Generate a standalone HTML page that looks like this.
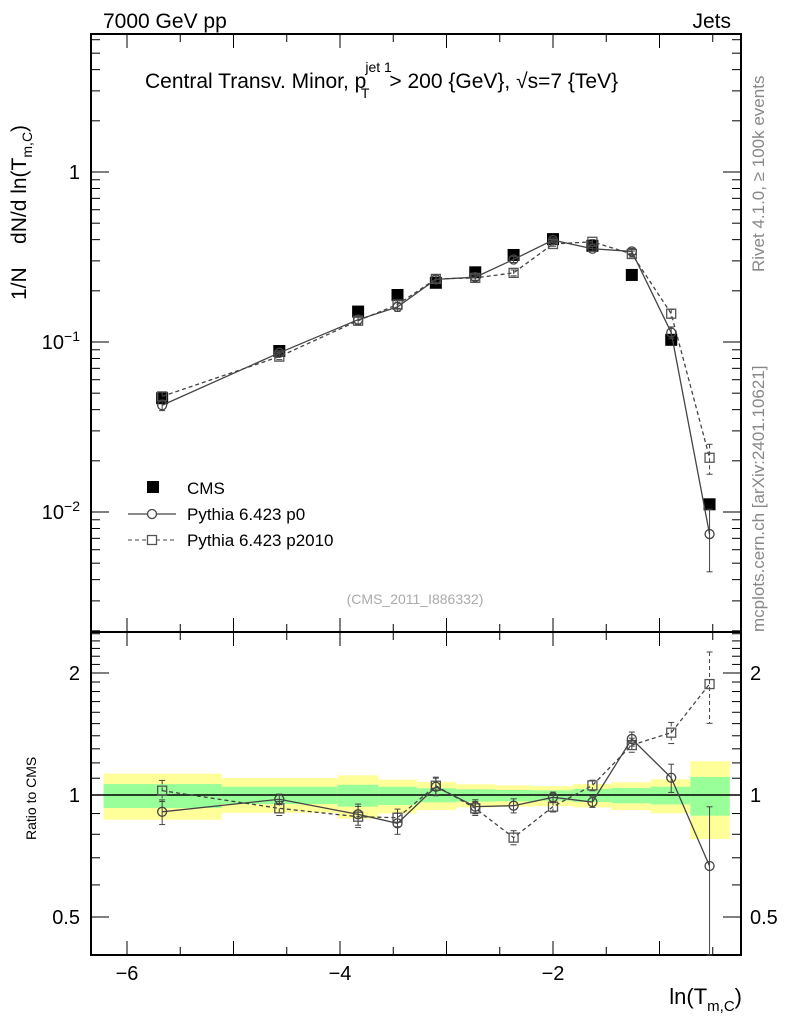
<!DOCTYPE html>
<html><head><meta charset="utf-8"><style>
body{margin:0;background:#fff}
svg{display:block;font-family:"Liberation Sans",sans-serif}
</style></head><body>
<svg id="chart" width="786" height="1024" viewBox="0 0 786 1024">
<text x="103" y="28" font-size="21">7000 GeV pp</text>
<text x="731" y="28" font-size="21" text-anchor="end">Jets</text>
<text x="145" y="88" font-size="21">Central Transv. Minor, p<tspan font-size="14" dx="-1" dy="-16">jet 1</tspan><tspan font-size="14" dx="-31" dy="26">T</tspan><tspan dx="20" dy="-10">&gt; 200 {GeV}, √s=7 {TeV}</tspan></text>
<text transform="translate(26,300) rotate(-90)" font-size="21" xml:space="preserve">1/N    dN/d ln(T<tspan font-size="14" dy="6">m,C</tspan><tspan dy="-6">)</tspan></text>
<text transform="translate(36,840) rotate(-90)" font-size="14">Ratio to CMS</text>
<text transform="translate(764,272) rotate(-90)" font-size="17" fill="#888">Rivet 4.1.0, ≥ 100k events</text>
<text transform="translate(764,632) rotate(-90)" font-size="17" fill="#888">mcplots.cern.ch [arXiv:2401.10621]</text>
<text x="415" y="604" font-size="14" fill="#aaa" text-anchor="middle">(CMS_2011_I886332)</text>
<text x="742" y="1004" font-size="22" text-anchor="end">ln(T<tspan font-size="15" dy="7">m,C</tspan><tspan dy="-7">)</tspan></text>
<g id="g"></g>
</svg>
<script>
const xCenters=[-5.67,-4.57,-3.83,-3.46,-3.10,-2.73,-2.37,-2.00,-1.63,-1.26,-0.89,-0.53];
const binEdges=[-6.22,-5.11,-4.02,-3.64,-3.28,-2.91,-2.54,-2.18,-1.81,-1.45,-1.08,-0.71,-0.34];
const cmsValues=[0.0467,0.0885,0.151,0.189,0.223,0.257,0.325,0.403,0.368,0.248,0.103,0.0111];
const p0Ratio=[0.909,0.976,0.896,0.851,1.048,0.936,0.941,0.987,0.961,1.375,1.103,0.668];
const p2010Ratio=[1.025,0.927,0.884,0.879,1.054,0.927,0.785,0.936,1.056,1.328,1.425,1.878];
const p0RelErr=[0.07,0.03,0.06,0.06,0.05,0.04,0.04,0.03,0.03,0.04,0.08,0.40];
const p2010RelErr=[0.06,0.04,0.06,0.05,0.05,0.04,0.04,0.03,0.03,0.04,0.06,0.20];
const greenHi=[1.064,1.048,1.060,1.048,1.039,1.033,1.029,1.027,1.035,1.041,1.048,1.108];
const greenLo=[0.929,0.950,0.936,0.945,0.959,0.963,0.965,0.968,0.961,0.954,0.948,0.889];
const yellowHi=[1.129,1.101,1.118,1.091,1.077,1.063,1.056,1.052,1.064,1.075,1.093,1.211];
const yellowLo=[0.869,0.904,0.874,0.901,0.918,0.932,0.936,0.939,0.932,0.918,0.901,0.779];
const xTicks=[-6,-4,-2];
const mainTicks=[0.01,0.1,1];
const mainTickLabels=["10^-2","10^-1","1"];
const ratioTicks=[0.5,1,2];

const NS="http://www.w3.org/2000/svg";
const g=document.getElementById('g');
const L=91,R=741,T=34,M=632,B=955;
const X=v=>127+(v+6)*106.5;
const Y=v=>172-170*Math.log10(v);
const YR=v=>795-122*Math.log2(v);
function el(t,a,p){const e=document.createElementNS(NS,t);for(const k in a)e.setAttribute(k,a[k]);(p||g).appendChild(e);return e;}

for(let i=0;i<binEdges.length-1;i++){
 const x1=X(binEdges[i]),x2=X(binEdges[i+1]);
 const y=el('rect',{x:x1,y:YR(yellowHi[i]),width:x2-x1,height:YR(yellowLo[i])-YR(yellowHi[i]),fill:'#ffff99'});
 
 
 const gr=el('rect',{x:x1,y:YR(greenHi[i]),width:x2-x1,height:YR(greenLo[i])-YR(greenHi[i]),fill:'#99ff99'});
 
 
}
el('line',{x1:L,x2:R,y1:YR(1),y2:YR(1),stroke:'#000','stroke-width':1.5});

el('rect',{x:L,y:T,width:R-L,height:M-T,fill:'none',stroke:'#000','stroke-width':2});
el('rect',{x:L,y:M,width:R-L,height:B-M,fill:'none',stroke:'#000','stroke-width':2});

for(let v=-6.5;v<=0.01;v+=0.5){
 const x=X(v);if(x<L||x>R)continue;
 const major=Math.abs(v-Math.round(v))<1e-6;
 const len=major?14:8;
 [[T,1],[M,-1],[M,1],[B,-1]].forEach(([y0,d])=>el('line',{x1:x,x2:x,y1:y0,y2:y0+d*len,stroke:'#000'}));
}
xTicks.forEach(v=>{const t=el('text',{x:X(v),y:980,'font-size':20,'text-anchor':'middle'});t.textContent='\u2212'+Math.abs(v);
 
 });

for(let e=-3;e<=0;e++)for(let k=1;k<=9;k++){
 const v=k*Math.pow(10,e),y=Y(v);if(y<T||y>M)continue;
 const len=k==1?18:9;
 el('line',{x1:L,x2:L+len,y1:y,y2:y,stroke:'#000'});el('line',{x1:R,x2:R-len,y1:y,y2:y,stroke:'#000'});
}
mainTicks.forEach((v,i)=>{
 const t=el('text',{x:80,y:Y(v)+7,'font-size':20,'text-anchor':'end'});
 const s=mainTickLabels[i];
 if(s.includes('^')){const [b,ex]=s.split('^');t.textContent=b;const ts=el('tspan',{dy:-8,'font-size':14},t);ts.textContent=ex.replace('-','\u2212');}
 else t.textContent=s;
 
 
});
for(let v=0.4;v<=2.55;v+=0.1){
 const y=YR(v);if(y<M||y>B)continue;
 const major=ratioTicks.some(r=>Math.abs(r-v)<1e-6);
 const len=major?18:9;
 el('line',{x1:L,x2:L+len,y1:y,y2:y,stroke:'#000'});el('line',{x1:R,x2:R-len,y1:y,y2:y,stroke:'#000'});
}
ratioTicks.forEach(v=>{
 const a=el('text',{x:80,y:YR(v)+7,'font-size':20,'text-anchor':'end'});a.textContent=String(v);
 
 
 const b=el('text',{x:750,y:YR(v)+7,'font-size':20});b.textContent=String(v);
 
 
});

function series(vals,relErr,Yf,dash,shape,name){
 const pts=vals.map((v,i)=>X(xCenters[i])+','+Yf(v)).join(' ');
 const pl=el('polyline',{points:pts,fill:'none',stroke:'#444','stroke-width':1.3,'stroke-dasharray':dash});
 
 
 vals.forEach((v,i)=>{
  const x=X(xCenters[i]);
  const yh=Math.max(Yf(v*(1+relErr[i])),T),yl=Math.min(Yf(Math.max(v*(1-relErr[i]),1e-9)),B);
  el('line',{x1:x,x2:x,y1:yh,y2:yl,stroke:'#444','stroke-dasharray':dash});
  el('line',{x1:x-3,x2:x+3,y1:yh,y2:yh,stroke:'#444'});el('line',{x1:x-3,x2:x+3,y1:yl,y2:yl,stroke:'#444'});
  const y=Yf(v);
  const m=shape=='c'?el('circle',{cx:x,cy:y,r:4.5,fill:'none',stroke:'#444','stroke-width':1.3}):el('rect',{x:x-4.5,y:y-4.5,width:9,height:9,fill:'none',stroke:'#555','stroke-width':1.3});
  
  
 });
}
const p0=cmsValues.map((v,i)=>v*p0Ratio[i]);
const p2=cmsValues.map((v,i)=>v*p2010Ratio[i]);
cmsValues.forEach((v,i)=>{
 const r=el('rect',{x:X(xCenters[i])-6,y:Y(v)-6,width:12,height:12,fill:'#000'});
 
 
});
series(p2,p2010RelErr,Y,'4,3','s','p2010');
series(p0,p0RelErr,Y,'none','c','p0');
series(p2010Ratio,p2010RelErr,YR,'4,3','s','p2010-ratio');
series(p0Ratio,p0RelErr,YR,'none','c','p0-ratio');

const lg=el('g',{});


el('rect',{x:147,y:481,width:12,height:12,fill:'#000'},lg);
el('line',{x1:128,x2:176,y1:514,y2:514,stroke:'#444','stroke-width':1.3},lg);
el('circle',{cx:152,cy:514,r:4.5,fill:'#fff',stroke:'#444','stroke-width':1.3},lg);
el('line',{x1:128,x2:176,y1:540,y2:540,stroke:'#444','stroke-dasharray':'4,3'},lg);
el('rect',{x:147.5,y:535.5,width:9,height:9,fill:'#fff',stroke:'#555','stroke-width':1.3},lg);
[['CMS',494],['Pythia 6.423 p0',520],['Pythia 6.423 p2010',546]].forEach(([s,y])=>{
 const t=el('text',{x:187,y:y,'font-size':17},lg);t.textContent=s;
 
 
});
</script>
</body></html>
